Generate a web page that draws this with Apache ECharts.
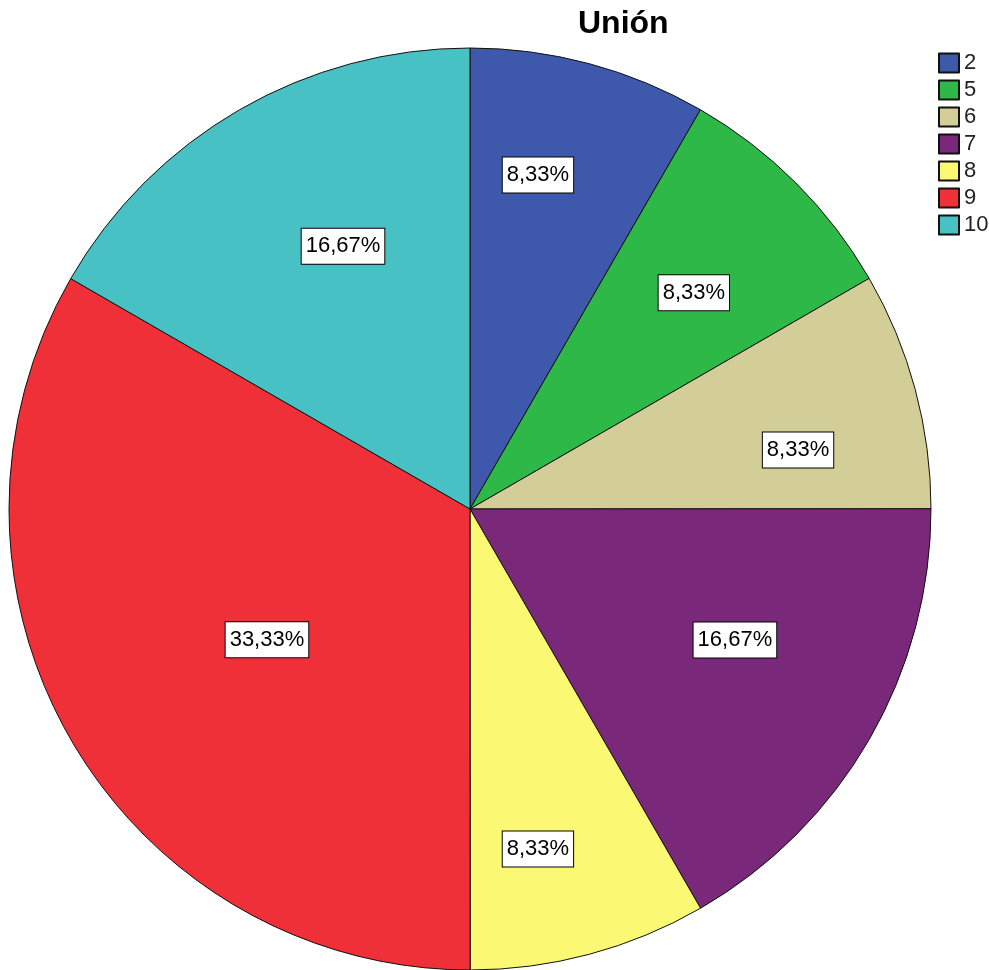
<!DOCTYPE html>
<html>
<head>
<meta charset="utf-8">
<script src="https://cdn.jsdelivr.net/npm/echarts@6/dist/echarts.min.js"></script>
<style>
html,body{margin:0;padding:0;background:#fff;}
#chart{width:989px;height:970px;}
</style>
</head>
<body>
<div id="chart"></div>
<script>
// Data
var titleText = 'Unión';
var categories = ['2', '5', '6', '7', '8', '9', '10'];
var percents = [8.33, 8.33, 8.33, 16.67, 8.33, 33.33, 16.67];
var colors = ['#3E58AC', '#2EB848', '#D3CE97', '#7A287A', '#FBF873', '#EF3038', '#48C1C5'];

// Layout: label placement (angle clockwise from top in degrees, radius fraction)
var CX = 470, CY = 509, R = 461;
var labelAngle = [11.5, 46.0, 79.8, 116.3, 168.7, 237.2, 334.2];
var labelFrac = [0.7395, 0.675, 0.723, 0.641, 0.752, 0.524, 0.633];

var chart = echarts.init(document.getElementById('chart'), null, {renderer: 'canvas'});
var data = categories.map(function (c, i) {
  return {name: c, value: percents[i], itemStyle: {color: colors[i]}};
});
chart.setOption({
  animation: false,
  backgroundColor: '#ffffff',
  title: {
    text: titleText,
    left: 573,
    top: 3,
    textStyle: {fontFamily: 'Liberation Sans', fontWeight: 'bold', fontSize: 32, color: '#000'}
  },
  legend: {
    orient: 'vertical',
    left: 938,
    top: 52,
    padding: 0,
    itemWidth: 20,
    itemHeight: 19,
    itemGap: 5,
    icon: 'rect',
    textStyle: {fontFamily: 'Liberation Sans', fontSize: 22, color: '#222'},
    data: categories
  },
  series: [{
    type: 'pie',
    center: [CX, CY],
    radius: R,
    startAngle: 90,
    clockwise: true,
    avoidLabelOverlap: false,
    itemStyle: {borderColor: '#111', borderWidth: 1},
    label: {
      show: true,
      position: 'inside',
      formatter: function (p) { return p.value.toFixed(2).replace('.', ',') + '%'; },
      fontFamily: 'Liberation Sans',
      fontSize: 22,
      color: '#000',
      backgroundColor: '#fff',
      borderColor: '#000',
      borderWidth: 1,
      padding: [7, 4, 6, 4]
    },
    labelLayout: function (p) {
      var a = labelAngle[p.dataIndex] * Math.PI / 180;
      var f = labelFrac[p.dataIndex] * R;
      return {x: CX + Math.sin(a) * f, y: CY - Math.cos(a) * f, align: 'center', verticalAlign: 'middle'};
    },
    emphasis: {disabled: true},
    data: data
  }]
});
</script>
</body>
</html>
